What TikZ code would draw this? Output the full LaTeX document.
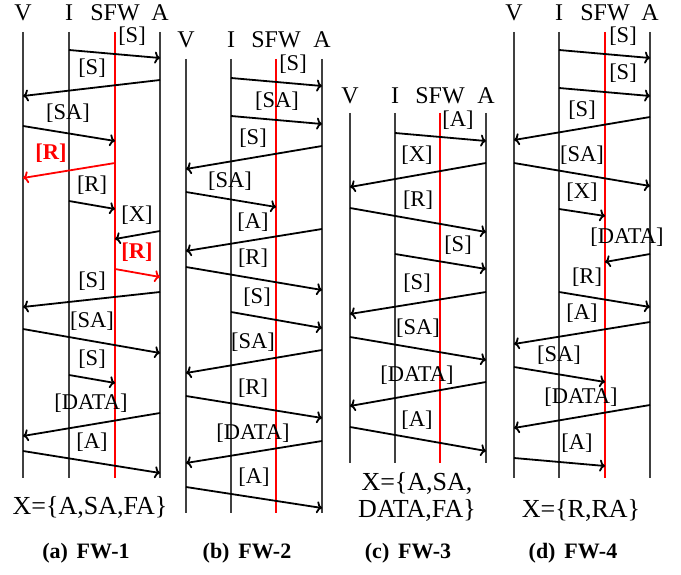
\documentclass[tikz,border=0pt]{standalone}
\usepackage{fontspec}
\setmainfont{Liberation Serif}
\usetikzlibrary{arrows.meta}

% Four lifelines (V, I, SFW, A) with their header labels.
% #1 prefix, #2-#5 x of V, I, SFW, A, #6 top, #7 bottom, #8 header y
\newcommand\lifepanel[8]{%
  \coordinate (#1V) at (#2,#6);
  \coordinate (#1I) at (#3,#6);
  \coordinate (#1F) at (#4,#6);
  \coordinate (#1A) at (#5,#6);
  \draw[life] (#1V) -- (#1V |- 0,#7);
  \draw[life] (#1I) -- (#1I |- 0,#7);
  \draw[life] (#1A) -- (#1A |- 0,#7);
  \draw[fwline] (#1F) -- (#1F |- 0,#7);
  \node[hdr] (#1hV) at (#2,#8) {V};
  \node[hdr] (#1hI) at (#3,#8) {I};
  \node[hdr] (#1hF) at (#4,#8) {SFW};
  \node[hdr] (#1hA) at (#5,#8) {A};
}
% A message: #1 style, #2 from lifeline, #3 to lifeline, #4 start y, #5 end y
\newcommand\msgline[5]{\draw[#1] (#2 |- 0,#4) -- (#3 |- 0,#5);}

\tikzset{
  life/.style={draw=black!75, line width=1.1pt},
  fwline/.style={draw=red, line width=2pt},
  msg/.style={draw=black, line width=1.8pt, -{To[length=5.5pt,width=12pt]}},
  redmsg/.style={msg, draw=red},
  lbl/.style={font=\fontsize{22.5}{26}\selectfont, inner sep=0pt},
  hdr/.style={font=\fontsize{24}{28}\selectfont, inner sep=0pt},
  redlbl/.style={lbl, text=red, font=\fontsize{22.5}{26}\selectfont\bfseries},
  setlbl/.style={font=\fontsize{26}{27}\selectfont, inner sep=0pt, align=center},
  sublbl/.style={font=\fontsize{22}{26}\selectfont\bfseries, inner sep=0pt}
}

\begin{document}
\begin{tikzpicture}[x=1pt, y=-1pt]
\useasboundingbox (0,0) rectangle (681,575);

% ---------------- (a) FW-1 ----------------
\lifepanel{a}{23}{69}{115}{160}{32}{478}{12.5}
\msgline{msg}{aI}{aA}{50}{58}
\node[lbl] (a1) at (132,36.5) {[S]};
\msgline{msg}{aA}{aV}{80}{96}
\node[lbl] (a2) at (92,68) {[S]};
\msgline{msg}{aV}{aF}{126}{141}
\node[lbl] (a3) at (68,113) {[SA]};
\msgline{redmsg}{aF}{aV}{163}{178}
\node[redlbl] (a4) at (51,153) {[R]};
\msgline{msg}{aI}{aF}{201}{209}
\node[lbl] (a5) at (92,185) {[R]};
\msgline{msg}{aA}{aF}{231}{239}
\node[lbl] (a6) at (137,215) {[X]};
\msgline{redmsg}{aF}{aA}{269}{277}
\node[redlbl] (a7) at (137,252) {[R]};
\msgline{msg}{aA}{aV}{292}{307}
\node[lbl] (a8) at (92,281) {[S]};
\msgline{msg}{aV}{aA}{329}{353}
\node[lbl] (a9) at (92,321) {[SA]};
\msgline{msg}{aI}{aF}{375}{383}
\node[lbl] (a10) at (92,359) {[S]};
\msgline{msg}{aA}{aV}{413}{436}
\node[lbl] (a11) at (91,403) {[DATA]};
\msgline{msg}{aV}{aA}{451}{473}
\node[lbl] (a12) at (92,442) {[A]};
\node[setlbl] (aset) at (90,507) {X=\{A,SA,FA\}};
\node[sublbl] (acap) at (86,553) {(a)\hspace{0.4em}FW-1};

% ---------------- (b) FW-2 ----------------
\lifepanel{b}{186}{231}{276}{322}{59}{513}{40}
\msgline{msg}{bI}{bA}{78}{86}
\node[lbl] (b1) at (293,64) {[S]};
\msgline{msg}{bI}{bA}{116}{124}
\node[lbl] (b2) at (277,101) {[SA]};
\msgline{msg}{bA}{bV}{146}{169}
\node[lbl] (b3) at (253,138) {[S]};
\msgline{msg}{bV}{bF}{192}{207}
\node[lbl] (b4) at (230,181) {[SA]};
\msgline{msg}{bA}{bV}{229}{251}
\node[lbl] (b5) at (253,222) {[A]};
\msgline{msg}{bV}{bA}{267}{290}
\node[lbl] (b6) at (253,258) {[R]};
\msgline{msg}{bI}{bA}{312}{328}
\node[lbl] (b7) at (257,297) {[S]};
\msgline{msg}{bA}{bV}{350}{373}
\node[lbl] (b8) at (253,342) {[SA]};
\msgline{msg}{bV}{bA}{396}{418}
\node[lbl] (b9) at (253,388) {[R]};
\msgline{msg}{bA}{bV}{441}{463}
\node[lbl] (b10) at (253,433) {[DATA]};
\msgline{msg}{bV}{bA}{487}{508}
\node[lbl] (b11) at (254,477) {[A]};
\node[sublbl] (bcap) at (247,553) {(b)\hspace{0.4em}FW-2};

% ---------------- (c) FW-3 ----------------
\lifepanel{c}{350}{395}{440}{486}{113}{463}{96}
\msgline{msg}{cI}{cA}{133}{141}
\node[lbl] (c1) at (458,120) {[A]};
\msgline{msg}{cA}{cV}{163}{187}
\node[lbl] (c2) at (417,155) {[X]};
\msgline{msg}{cV}{cA}{208}{232}
\node[lbl] (c3) at (418,200) {[R]};
\msgline{msg}{cI}{cA}{254}{269}
\node[lbl] (c4) at (458,245) {[S]};
\msgline{msg}{cA}{cV}{292}{314}
\node[lbl] (c5) at (417,283) {[S]};
\msgline{msg}{cV}{cA}{337}{360}
\node[lbl] (c6) at (418,328) {[SA]};
\msgline{msg}{cA}{cV}{382}{406}
\node[lbl] (c7) at (417,375) {[DATA]};
\msgline{msg}{cV}{cA}{427}{451}
\node[lbl] (c8) at (417,420) {[A]};
\node[setlbl] (cset) at (417,497) {X=\{A,SA,\\DATA,FA\}};
\node[sublbl] (ccap) at (408,553) {(c)\hspace{0.4em}FW-3};

% ---------------- (d) FW-4 ----------------
\lifepanel{d}{514}{559}{605}{650}{32}{478}{12.5}
\msgline{msg}{dI}{dA}{50}{58}
\node[lbl] (d1) at (623,36.5) {[S]};
\msgline{msg}{dI}{dA}{88}{96}
\node[lbl] (d2) at (623,73) {[S]};
\msgline{msg}{dA}{dV}{117}{140}
\node[lbl] (d3) at (582,110) {[S]};
\msgline{msg}{dV}{dA}{163}{186}
\node[lbl] (d4) at (582,155) {[SA]};
\msgline{msg}{dI}{dF}{209}{216}
\node[lbl] (d5) at (582,192) {[X]};
\msgline{msg}{dA}{dF}{254}{262}
\node[lbl] (d6) at (627,237) {[DATA]};
\msgline{msg}{dI}{dA}{292}{307}
\node[lbl] (d7) at (587,277) {[R]};
\msgline{msg}{dA}{dV}{322}{344}
\node[lbl] (d8) at (582,313) {[A]};
\msgline{msg}{dV}{dF}{367}{382}
\node[lbl] (d9) at (559,355) {[SA]};
\msgline{msg}{dA}{dV}{405}{428}
\node[lbl] (d10) at (581,397) {[DATA]};
\msgline{msg}{dV}{dF}{458}{466}
\node[lbl] (d11) at (577,443) {[A]};
\node[setlbl] (dset) at (581,510) {X=\{R,RA\}};
\node[sublbl] (dcap) at (573,553) {(d)\hspace{0.4em}FW-4};
\end{tikzpicture}
\end{document}
